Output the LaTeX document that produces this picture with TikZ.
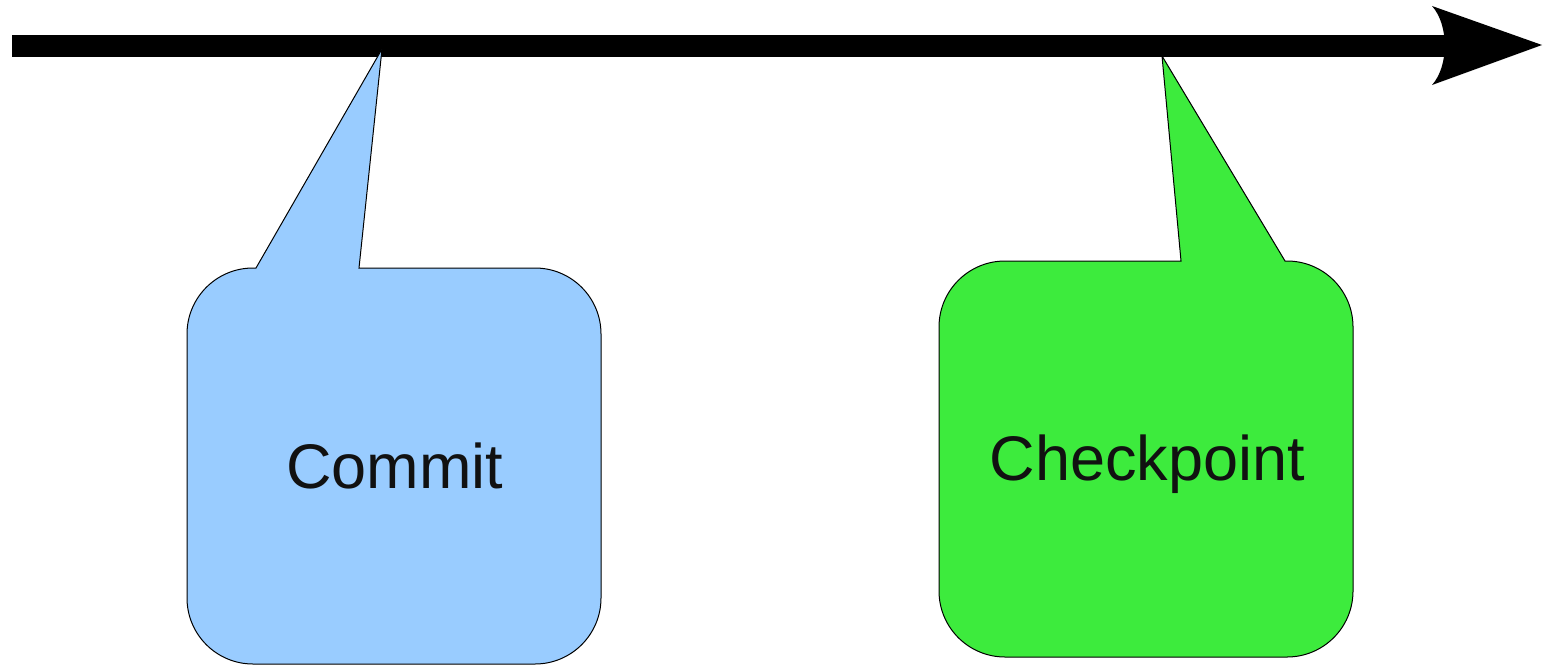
\documentclass[tikz,border=0pt]{standalone}
\usepackage{fontspec}
\setmainfont{Liberation Sans}
\definecolor{cblue}{HTML}{99CCFF}
\definecolor{cgreen}{HTML}{3DEB3D}
\definecolor{ctext}{HTML}{111111}
\tikzset{
  callout/.style={draw=black, line width=0.5pt, line join=miter},
  label/.style={anchor=base, text=ctext, inner sep=0pt, font=\fontsize{31.5}{36}\selectfont}
}
\begin{document}
\begin{tikzpicture}[x=0.5pt,y=0.5pt]
\useasboundingbox (0,0) rectangle (1550,666);
% time line
\fill[black] (12,609) rectangle (1446,631);
\fill[black] (1432,660) -- (1542,621) -- (1432,581) .. controls (1449,600) and (1449,641) .. (1432,660) -- cycle;
\coordinate (tc) at (382,617);
\coordinate (tk) at (1162,610);
% Commit callout
\filldraw[callout, fill=cblue] (256,398) -- (tc) -- (359,398) -- (535,398)
  arc[start angle=90,end angle=0,radius=66] -- (601,68)
  arc[start angle=0,end angle=-90,radius=66] -- (253,2)
  arc[start angle=-90,end angle=-180,radius=66] -- (187,332)
  arc[start angle=180,end angle=90,radius=66] -- cycle;
% Checkpoint callout
\filldraw[callout, fill=cgreen] (1181,405) -- (tk) -- (1285,405) -- (1287,405)
  arc[start angle=90,end angle=0,radius=66] -- (1353,75)
  arc[start angle=0,end angle=-90,radius=66] -- (1005,9)
  arc[start angle=-90,end angle=-180,radius=66] -- (939,339)
  arc[start angle=180,end angle=90,radius=66] -- cycle;
\node[label] (commit) at (394.5,178) {Commit};
\node[label] (checkpoint) at (1147.5,186) {Checkpoint};
\end{tikzpicture}
\end{document}
